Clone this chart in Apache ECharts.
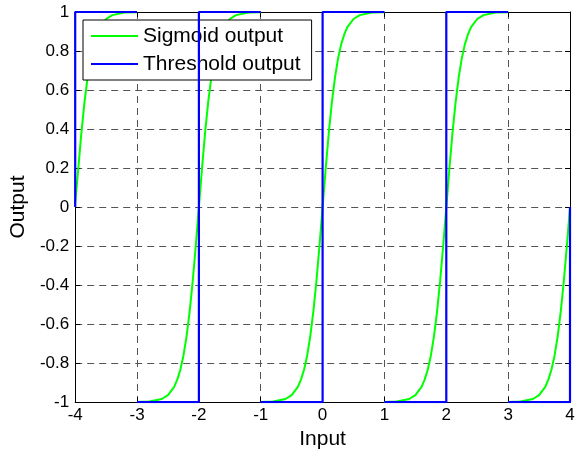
<!DOCTYPE html>
<html>
<head>
<meta charset="utf-8">
<script src="https://cdn.jsdelivr.net/npm/echarts@6/dist/echarts.min.js"></script>
<style>
html,body{margin:0;padding:0;background:#fff;}
#chart{width:578px;height:455px;}
</style>
</head>
<body>
<div id="chart"></div>
<script>
// Sigmoid output (null = break between plotted segments)
const sigmoidX = [
  -4, -3.95, -3.9, -3.85, -3.8, -3.75, -3.7, -3.65, -3.6, -3.5, -3.4, -3.2, -3.0,
  null,
  -3, -2.8, -2.6, -2.5, -2.4, -2.35, -2.3, -2.25, -2.2, -2.15, -2.1, -2.05, -2, -1.95, -1.9, -1.85, -1.8, -1.75, -1.7, -1.65, -1.6, -1.5, -1.4, -1.2, -1.0,
  null,
  -1, -0.8, -0.6, -0.5, -0.4, -0.35, -0.3, -0.25, -0.2, -0.15, -0.1, -0.05, 0, 0.05, 0.1, 0.15, 0.2, 0.25, 0.3, 0.35, 0.4, 0.5, 0.6, 0.8, 1.0,
  null,
  1, 1.2, 1.4, 1.5, 1.6, 1.65, 1.7, 1.75, 1.8, 1.85, 1.9, 1.95, 2, 2.05, 2.1, 2.15, 2.2, 2.25, 2.3, 2.35, 2.4, 2.5, 2.6, 2.8, 3.0,
  null,
  3, 3.2, 3.4, 3.5, 3.6, 3.65, 3.7, 3.75, 3.8, 3.85, 3.9, 3.95, 4
];
const sigmoidY = [
  0.02, 0.197, 0.380, 0.537, 0.664, 0.762, 0.834, 0.885, 0.922, 0.964, 0.984, 0.997, 0.999,
  null,
  -0.999, -0.997, -0.984, -0.964, -0.922, -0.885, -0.834, -0.762, -0.664, -0.537, -0.380, -0.197, 0, 0.197, 0.380, 0.537, 0.664, 0.762, 0.834, 0.885, 0.922, 0.964, 0.984, 0.997, 0.999,
  null,
  -0.999, -0.997, -0.984, -0.964, -0.922, -0.885, -0.834, -0.762, -0.664, -0.537, -0.380, -0.197, 0, 0.197, 0.380, 0.537, 0.664, 0.762, 0.834, 0.885, 0.922, 0.964, 0.984, 0.997, 0.999,
  null,
  -0.999, -0.997, -0.984, -0.964, -0.922, -0.885, -0.834, -0.762, -0.664, -0.537, -0.380, -0.197, 0, 0.197, 0.380, 0.537, 0.664, 0.762, 0.834, 0.885, 0.922, 0.964, 0.984, 0.997, 0.999,
  null,
  -0.999, -0.997, -0.984, -0.964, -0.922, -0.885, -0.834, -0.762, -0.664, -0.537, -0.380, -0.197, 0
];
// Threshold output
const thresholdX = [-4, -4, -3, null, -3, -2, -2, -1, null, -1, 0, 0, 1, null, 1, 2, 2, 3, null, 3, 4, 4];
const thresholdY = [ 0,  1,  1, null, -1, -1,  1,  1, null, -1, -1, 1, 1, null, -1, -1, 1, 1, null, -1, -1, 0];

const xTicks = [-4, -3, -2, -1, 0, 1, 2, 3, 4];
const yTicks = [-1, -0.8, -0.6, -0.4, -0.2, 0, 0.2, 0.4, 0.6, 0.8, 1];
const seriesNames = ['Sigmoid output', 'Threshold output'];

function pairs(xs, ys) {
  return xs.map((x, i) => (x === null ? [NaN, NaN] : [x, ys[i]]));
}

const FONT = 'Liberation Sans';
const gridLine = { show: true, lineStyle: { color: '#555', width: 1, type: [7, 5] } };

const chart = echarts.init(document.getElementById('chart'), null, { renderer: 'canvas' });
chart.setOption({
  animation: false,
  backgroundColor: '#fff',
  grid: { left: 74, right: 8, top: 12, bottom: 51, containLabel: false },
  legend: {
    data: seriesNames,
    orient: 'vertical',
    left: 83, top: 20,
    padding: [4, 11, 4, 8],
    itemGap: 4,
    itemWidth: 47, itemHeight: 2,
    icon: 'rect',
    backgroundColor: '#fff',
    borderColor: '#000', borderWidth: 1, borderRadius: 0,
    textStyle: { fontFamily: FONT, fontSize: 21, color: '#000', lineHeight: 24 }
  },
  xAxis: [{
    type: 'value', min: xTicks[0], max: xTicks[xTicks.length - 1], interval: 1,
    name: 'Input', nameLocation: 'middle', nameGap: 25,
    nameTextStyle: { fontFamily: FONT, fontSize: 21, color: '#000' },
    axisLine: { show: true, onZero: false, lineStyle: { color: '#000', width: 1 } },
    axisTick: { show: true, inside: true, length: 5, lineStyle: { color: '#000' } },
    axisLabel: { fontFamily: FONT, fontSize: 17, color: '#000', margin: 5 },
    splitLine: gridLine
  }, {
    type: 'value', position: 'top', min: xTicks[0], max: xTicks[xTicks.length - 1], interval: 1,
    axisLine: { show: true, onZero: false, lineStyle: { color: '#000', width: 1 } },
    axisTick: { show: true, inside: true, length: 5, lineStyle: { color: '#000' } },
    axisLabel: { show: false }, splitLine: { show: false }
  }],
  yAxis: [{
    type: 'value', min: yTicks[0], max: yTicks[yTicks.length - 1], interval: 0.2,
    name: 'Output', nameLocation: 'middle', nameGap: 35,
    nameTextStyle: { fontFamily: FONT, fontSize: 21, color: '#000' },
    axisLine: { show: true, onZero: false, lineStyle: { color: '#000', width: 1 } },
    axisTick: { show: true, inside: true, length: 5, lineStyle: { color: '#000' } },
    axisLabel: { fontFamily: FONT, fontSize: 17, color: '#000', margin: 6,
      formatter: v => String(+v.toFixed(1)) },
    splitLine: gridLine
  }, {
    type: 'value', position: 'right', min: yTicks[0], max: yTicks[yTicks.length - 1], interval: 0.2,
    axisLine: { show: true, onZero: false, lineStyle: { color: '#000', width: 1 } },
    axisTick: { show: true, inside: true, length: 5, lineStyle: { color: '#000' } },
    axisLabel: { show: false }, splitLine: { show: false }
  }],
  series: [{
    name: seriesNames[0], type: 'line', xAxisIndex: 0, yAxisIndex: 0,
    data: pairs(sigmoidX, sigmoidY), showSymbol: false, symbol: 'none',
    connectNulls: false, lineStyle: { color: '#00ff00', width: 2 }, itemStyle: { color: '#00ff00' },
    z: 3
  }, {
    name: seriesNames[1], type: 'line', xAxisIndex: 0, yAxisIndex: 0,
    data: pairs(thresholdX, thresholdY), showSymbol: false, symbol: 'none',
    connectNulls: false, lineStyle: { color: '#0000ff', width: 2.2 }, itemStyle: { color: '#0000ff' },
    z: 4
  }]
});
</script>
</body>
</html>
